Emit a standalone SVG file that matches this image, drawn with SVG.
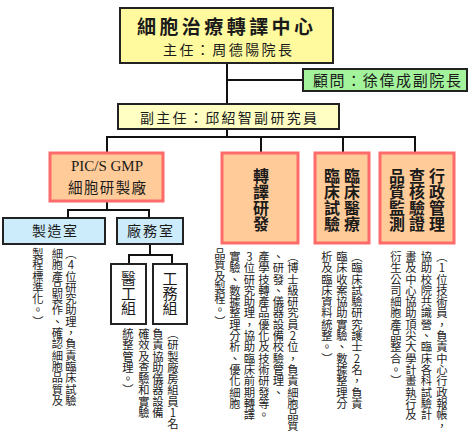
<svg xmlns="http://www.w3.org/2000/svg" width="473" height="437" viewBox="0 0 473 437">
<style>
.bx{stroke:#222;stroke-width:2}
.org{fill:#FFCC99;stroke:#FF6B6B;stroke-width:3}
.cn{stroke:#111;stroke-width:2;fill:none}
.t{font-family:"Noto Sans CJK TC","Noto Sans CJK SC",sans-serif;fill:#1a1a1a}
.lb{font-family:"Noto Sans CJK TC","Noto Sans CJK SC",sans-serif;fill:#1a1a1a;font-weight:bold}
.vl{font-family:"Noto Sans CJK TC","Noto Sans CJK SC",sans-serif;fill:#1a1a1a;writing-mode:vertical-rl;text-orientation:upright;font-size:16px;font-weight:bold}
.vd{font-family:"Noto Sans CJK TC","Noto Sans CJK SC",sans-serif;fill:#222;writing-mode:vertical-rl;text-orientation:upright;font-size:11.3px}
</style>
<rect width="473" height="437" fill="#fff"/>
<g id="connectors">
<line class="cn" x1="227" y1="63" x2="227" y2="104"/>
<line class="cn" x1="227" y1="80" x2="303" y2="80"/>
<line class="cn" x1="227" y1="129" x2="227" y2="137"/>
<line class="cn" x1="106" y1="137" x2="416" y2="137"/>
<line class="cn" x1="107" y1="137" x2="107" y2="153"/>
<line class="cn" x1="261" y1="137" x2="261" y2="153"/>
<line class="cn" x1="343" y1="137" x2="343" y2="153"/>
<line class="cn" x1="415" y1="137" x2="415" y2="153"/>
<line class="cn" x1="107" y1="201" x2="107" y2="210"/>
<line class="cn" x1="67" y1="210" x2="150" y2="210"/>
<line class="cn" x1="68" y1="210" x2="68" y2="218"/>
<line class="cn" x1="149" y1="210" x2="149" y2="218"/>
<line class="cn" x1="150" y1="244" x2="150" y2="255"/>
<line class="cn" x1="128" y1="255" x2="173" y2="255"/>
<line class="cn" x1="129" y1="255" x2="129" y2="264"/>
<line class="cn" x1="172" y1="255" x2="172" y2="264"/>
</g>
<g id="center">
<rect class="bx" x="120" y="8" width="213" height="55" fill="#FFFA9E"/>
<text class="lb" x="137" y="34" font-size="19" textLength="176" lengthAdjust="spacing">細胞治療轉譯中心</text>
<text class="t" x="163" y="55" font-size="14" textLength="129" lengthAdjust="spacing">主任：周德陽院長</text>
</g>
<g id="advisor">
<rect class="bx" x="303" y="69" width="164" height="22" fill="#A3F29C"/>
<text class="t" x="313" y="86" font-size="15" textLength="148" lengthAdjust="spacing">顧問：徐偉成副院長</text>
</g>
<g id="deputy">
<rect class="bx" x="118" y="104" width="221" height="25" fill="#FFFFC4"/>
<text class="t" x="140" y="123" font-size="14" textLength="177" lengthAdjust="spacing">副主任：邱紹智副研究員</text>
</g>
<g id="gmp">
<rect class="org" x="50" y="153" width="113" height="48"/>
<text x="107" y="171" font-family="Liberation Serif,serif" font-size="15" fill="#1a1a1a" text-anchor="middle">PIC/S GMP</text>
<text class="t" x="68" y="193" font-size="14.5" textLength="78" lengthAdjust="spacing">細胞研製廠</text>
</g>
<g id="manufacture">
<rect class="bx" x="3" y="218" width="102" height="26" fill="#CCECFC"/>
<text class="t" x="32" y="236" font-size="14" textLength="45" lengthAdjust="spacing">製造室</text>
<text class="vd" x="71" y="248">（4位研究助理，負責臨床試驗</text>
<text class="vd" x="57.5" y="248">細胞產品製作、確認細胞品質及</text>
<text class="vd" x="38" y="248">製程標準化。）</text>
</g>
<g id="facility">
<rect class="bx" x="117" y="218" width="66" height="26" fill="#CCECFC"/>
<text class="t" x="127" y="236" font-size="14" textLength="46" lengthAdjust="spacing">廠務室</text>
</g>
<g id="biomed">
<rect class="bx" x="111" y="264" width="35" height="60" fill="#fff"/>
<text class="vl" x="128.5" y="271" style="font-weight:normal;font-size:15px">醫工組</text>
<text class="vd" x="128" y="328">統整管理。）</text>
</g>
<g id="works">
<rect class="bx" x="153" y="264" width="34" height="60" fill="#fff"/>
<text class="vl" x="170" y="271" style="font-weight:normal;font-size:15px">工務組</text>
<text class="vd" x="173" y="328">（研製廠房組員1名</text>
<text class="vd" x="158" y="328">負責協助儀器設備</text>
<text class="vd" x="144" y="328">確效及查驗和實驗</text>
</g>
<g id="translation">
<rect class="org" x="222" y="153" width="76" height="90"/>
<text class="vl" x="261" y="168">轉譯研發</text>
<text class="vd" x="293" y="251">（博士級研究員2位，負責細胞品質</text>
<text class="vd" x="278.5" y="251">、研發、儀器設備校驗管理、</text>
<text class="vd" x="264" y="251">產學技轉產品優化及技術研發等。</text>
<text class="vd" x="249.5" y="251">3位研究助理，協助臨床前期轉譯</text>
<text class="vd" x="235" y="251">實驗、數據整理分析、優化細胞</text>
<text class="vd" x="220" y="248">品質及製程。）</text>
</g>
<g id="clinical">
<rect class="org" x="315" y="153" width="54" height="90"/>
<text class="vl" x="352" y="168">臨床醫療</text>
<text class="vl" x="332" y="168">臨床試驗</text>
<text class="vd" x="357" y="251">（臨床試驗研究護士2名，負責</text>
<text class="vd" x="342" y="251">臨床收案協助實驗、數據整理分</text>
<text class="vd" x="327" y="251">析及臨床資料統整。）</text>
</g>
<g id="admin">
<rect class="org" x="380" y="153" width="74" height="90"/>
<text class="vl" x="437" y="168">行政管理</text>
<text class="vl" x="417" y="168">查核驗證</text>
<text class="vl" x="397" y="168">品質監測</text>
<text class="vd" x="442" y="251">（1位技術員，負責中心行政報帳，</text>
<text class="vd" x="426.5" y="251">協助校院共識營、臨床各科試驗計</text>
<text class="vd" x="411" y="251">畫及中心協助頂尖大學計畫執行及</text>
<text class="vd" x="396" y="251">衍生公司細胞產品整合。）</text>
</g>
</svg>
